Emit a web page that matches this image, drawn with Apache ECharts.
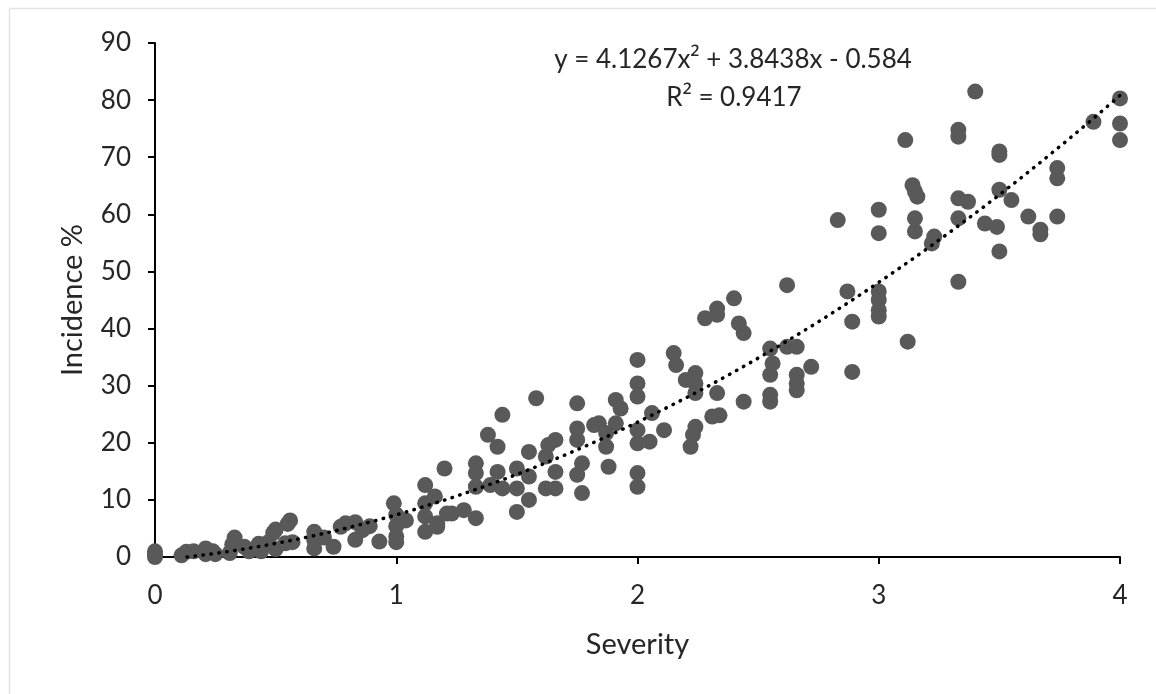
<!DOCTYPE html>
<html>
<head>
<meta charset="utf-8">
<script src="https://cdn.jsdelivr.net/npm/echarts@6/dist/echarts.min.js"></script>
<style>
html,body{margin:0;padding:0;background:#fff;}
#chart{width:1156px;height:694px;}
</style>
</head>
<body>
<div id="chart"></div>
<script>
// Severity (x) values
var severity = [
  0,0,0,0.11,0.13,0.16,0.21,0.21,0.24,0.25,
  0.31,0.32,0.33,0.37,0.39,0.43,0.44,0.47,0.49,0.50,0.50,0.54,0.55,0.56,0.57,
  0.66,0.66,0.66,0.70,0.74,0.77,0.79,0.83,0.83,0.86,0.89,0.93,
  0.99,1.00,1.00,1.00,1.00,1.04,
  1.12,1.12,1.12,1.12,1.16,1.17,1.17,1.20,1.21,1.23,1.28,
  1.33,1.33,1.33,1.33,1.38,1.39,1.42,1.42,1.44,1.44,
  1.50,1.50,1.50,1.55,1.55,1.55,1.58,1.62,1.62,1.63,1.66,1.66,1.66,
  1.75,1.75,1.75,1.75,1.77,1.77,1.82,1.84,1.87,1.87,1.88,1.91,1.91,1.93,
  2.00,2.00,2.00,2.00,2.00,2.00,2.00,2.05,2.06,2.11,
  2.15,2.16,2.20,2.24,2.24,2.24,2.24,2.23,2.22,2.28,2.31,2.34,2.33,2.33,2.33,2.40,2.42,2.44,2.44,
  2.55,2.56,2.55,2.55,2.55,2.62,2.62,2.66,2.66,2.66,2.66,2.72,
  2.83,2.87,2.89,2.89,
  3.00,3.00,3.00,3.00,3.00,3.00,
  3.11,3.12,3.14,3.15,3.16,3.15,3.15,3.22,3.23,
  3.33,3.33,3.33,3.33,3.33,3.37,3.40,3.44,
  3.50,3.50,3.50,3.49,3.50,3.55,3.62,3.67,3.67,
  3.74,3.74,3.74,3.89,4.00,4.00,4.00
];
// Incidence % (y) values
var incidence = [
  0,0.5,1.0,0.3,0.9,1.0,1.5,0.5,1.0,0.5,
  0.7,2.2,3.4,1.8,1.0,2.3,1.0,2.6,4.2,4.8,1.4,2.4,5.8,6.4,2.6,
  4.4,3.0,1.5,3.4,1.8,5.3,5.9,6.1,3.0,4.7,5.4,2.7,
  9.4,7.4,5.4,3.6,2.6,6.4,
  12.6,9.4,7.1,4.4,10.6,5.9,5.3,15.5,7.6,7.6,8.2,
  16.4,14.7,12.3,6.8,21.4,12.6,19.3,14.9,12.0,24.9,
  15.5,12.0,7.9,18.4,14.1,10.0,27.8,17.6,12.0,19.6,20.5,14.9,12.0,
  26.9,22.5,20.5,14.4,16.4,11.2,23.1,23.4,21.7,19.3,15.8,27.5,23.4,26.0,
  34.5,30.4,28.1,22.2,19.9,14.7,12.3,20.2,25.2,22.2,
  35.7,33.6,31.0,32.2,30.4,28.7,22.8,21.4,19.3,41.8,24.6,24.8,28.7,43.5,42.4,45.3,40.9,39.2,27.2,
  36.5,33.9,31.9,28.4,27.2,47.6,36.8,36.8,31.9,30.4,29.2,33.3,
  59.0,46.5,41.2,32.4,
  60.8,56.7,46.5,45.0,43.2,42.1,
  73.0,37.7,65.1,64.0,63.1,59.3,57.0,54.9,56.1,
  74.8,73.6,62.8,59.3,48.2,62.2,81.5,58.4,
  71.0,70.4,64.3,57.8,53.5,62.5,59.6,57.3,56.5,
  68.1,66.3,59.6,76.2,80.3,75.9,73.0
];
// Trendline coefficients as printed on the chart
var coefA = 4.1267, coefB = 3.8438, coefC = -0.584;
var xTicks = [0, 1, 2, 3, 4];
var yTicks = [0, 10, 20, 30, 40, 50, 60, 70, 80, 90];
var equationText = 'y = 4.1267x{s|²} + 3.8438x - 0.584';
var r2Text = 'R{s|²} = 0.9417';

var points = severity.map(function (x, i) { return [x, incidence[i]]; });

// trendline from the fitted polynomial, clipped where it drops below 0
var xStart = (-coefB + Math.sqrt(coefB * coefB - 4 * coefA * coefC)) / (2 * coefA);
var trend = [];
for (var k = 0; k <= 200; k++) {
  var x = xStart + (4 - xStart) * k / 200;
  trend.push([x, coefA * x * x + coefB * x + coefC]);
}

var font = 'Lato, "Open Sans", sans-serif';
var supStyle = { fontFamily: '"Noto Sans", "DejaVu Sans", sans-serif', fontSize: 26, fill: '#262626' };
var chart = echarts.init(document.getElementById('chart'), null, { renderer: 'canvas' });
chart.setOption({
  backgroundColor: '#ffffff',
  animation: false,
  grid: { left: 155, right: 36, top: 43, bottom: 137 },
  xAxis: {
    type: 'value', min: 0, max: 4, interval: 1,
    name: 'Severity', nameLocation: 'middle', nameGap: 73,
    nameTextStyle: { fontFamily: font, fontSize: 29, color: '#262626' },
    axisLine: { show: true, lineStyle: { color: '#000', width: 2 } },
    axisTick: { show: true, length: 7, lineStyle: { color: '#000', width: 2 } },
    axisLabel: { fontFamily: font, fontSize: 26, color: '#262626', margin: 26 },
    splitLine: { show: false }
  },
  yAxis: {
    type: 'value', min: 0, max: 90, interval: 10,
    name: 'Incidence %', nameLocation: 'middle', nameGap: 68, nameRotate: 90,
    nameTextStyle: { fontFamily: font, fontSize: 29, color: '#262626' },
    axisLine: { show: true, lineStyle: { color: '#000', width: 2 } },
    axisTick: { show: true, length: 7, lineStyle: { color: '#000', width: 2 } },
    axisLabel: { fontFamily: font, fontSize: 26, color: '#262626', margin: 24 },
    splitLine: { show: false }
  },
  graphic: [
    { type: 'line', shape: { x1: 9.5, y1: 8.5, x2: 1156, y2: 8.5 }, style: { stroke: '#e3e3e3', lineWidth: 1.5 }, silent: true },
    { type: 'line', shape: { x1: 9.5, y1: 8.5, x2: 9.5, y2: 694 }, style: { stroke: '#e3e3e3', lineWidth: 1.5 }, silent: true },
    { type: 'text', x: 733, y: 60, style: { text: equationText, fontFamily: font, fontSize: 26, fill: '#262626', textAlign: 'center', textVerticalAlign: 'middle', rich: { s: supStyle } }, silent: true },
    { type: 'text', x: 734, y: 98, style: { text: r2Text, fontFamily: font, fontSize: 26, fill: '#262626', textAlign: 'center', textVerticalAlign: 'middle', rich: { s: supStyle } }, silent: true }
  ],
  series: [
    {
      type: 'scatter', data: points, symbol: 'circle', symbolSize: 16,
      itemStyle: { color: '#595959', opacity: 1 },
      z: 2
    },
    {
      type: 'line', data: trend, showSymbol: false, symbol: 'none', smooth: false,
      lineStyle: { color: '#000', width: 3.5, type: [0.5, 7.5], cap: 'round' },
      z: 3
    }
  ]
});
</script>
</body>
</html>
